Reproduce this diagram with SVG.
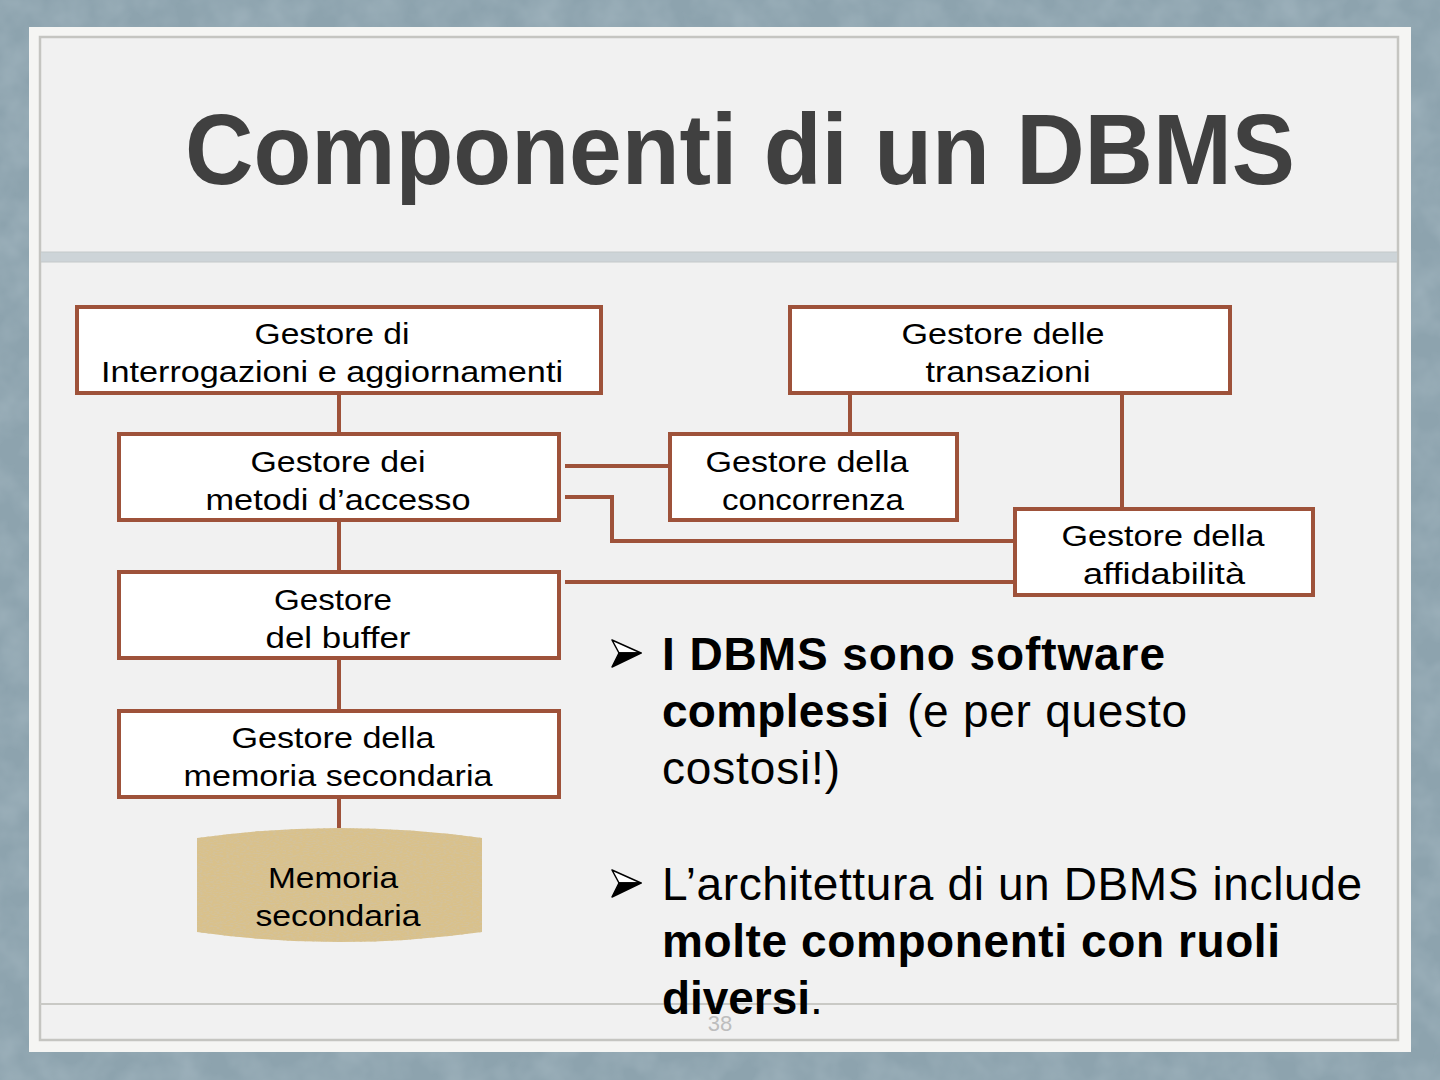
<svg xmlns="http://www.w3.org/2000/svg" width="1440" height="1080" viewBox="0 0 1440 1080">
  <defs>
    <style>
      .box { fill: #ffffff; stroke: #9e523a; stroke-width: 4; }
      .conn { fill: none; stroke: #9e523a; stroke-width: 4; }
      .lbl { font-family: "Liberation Sans", Arial, sans-serif; font-size: 29px; fill: #000000; text-anchor: middle; }
      .bul { font-family: "Liberation Sans", Arial, sans-serif; font-size: 46px; fill: #000000; }
      .b { font-weight: bold; }
    </style>
    <filter id="bgtex" x="0" y="0" width="100%" height="100%">
      <feTurbulence type="fractalNoise" baseFrequency="0.03" numOctaves="3" seed="7" result="n"/>
      <feColorMatrix in="n" type="matrix" values="0 0 0 0 0.48  0 0 0 0 0.58  0 0 0 0 0.64  0.6 0 0 0 -0.2" result="c"/>
      <feComposite in="c" in2="SourceGraphic" operator="in"/>
    </filter>
    <filter id="cork" x="0" y="0" width="100%" height="100%">
      <feTurbulence type="fractalNoise" baseFrequency="0.3 0.9" numOctaves="2" seed="4" result="n"/>
      <feColorMatrix in="n" type="matrix" values="0 0 0 0 0.66  0 0 0 0 0.54  0 0 0 0 0.32  4 0 0 0 -1.75" result="c"/>
      <feComposite in="c" in2="SourceGraphic" operator="in"/>
    </filter>
  </defs>

  <!-- background -->
  <rect x="0" y="0" width="1440" height="1080" fill="#8da3ae"/>
  <rect x="0" y="0" width="1440" height="1080" fill="#8da3ae" filter="url(#bgtex)"/>

  <!-- slide -->
  <rect x="29" y="27" width="1382" height="1025" fill="#f5f5f3"/>
  <rect x="40" y="37" width="1358" height="1003" fill="#f1f1f1" stroke="#c5c5c1" stroke-width="2.5"/>
  <rect x="41" y="252" width="1356" height="10" fill="#cdd4d8"/>
  <line x1="41" y1="252" x2="1397" y2="252" stroke="#c4c9ca" stroke-width="1"/>
  <line x1="41" y1="262" x2="1397" y2="262" stroke="#c4c9ca" stroke-width="1"/>
  <line x1="40" y1="1004" x2="1398" y2="1004" stroke="#c9c9c5" stroke-width="2"/>

  <!-- title -->
  <text id="title" x="185" y="184" font-family="'Liberation Sans', Arial, sans-serif" font-weight="bold" font-size="100" fill="#404040" textLength="1110" lengthAdjust="spacingAndGlyphs">Componenti di un DBMS</text>

  <!-- connectors -->
  <g id="connectors">
    <line class="conn" x1="339" y1="393" x2="339" y2="434"/>
    <line class="conn" x1="339" y1="520" x2="339" y2="572"/>
    <line class="conn" x1="339" y1="658" x2="339" y2="711"/>
    <line class="conn" x1="339" y1="797" x2="339" y2="828"/>
    <line class="conn" x1="565" y1="466" x2="670" y2="466"/>
    <polyline class="conn" points="565,497 612,497 612,541 1015,541"/>
    <line class="conn" x1="565" y1="582" x2="1015" y2="582"/>
    <line class="conn" x1="850" y1="393" x2="850" y2="434"/>
    <line class="conn" x1="1122" y1="393" x2="1122" y2="509"/>
  </g>

  <!-- nodes -->
  <g id="node-interrogazioni">
    <rect class="box" x="77" y="307" width="524" height="86"/>
    <text class="lbl" x="332" y="344" textLength="155" lengthAdjust="spacingAndGlyphs">Gestore di</text>
    <text class="lbl" x="332" y="382" textLength="462" lengthAdjust="spacingAndGlyphs">Interrogazioni e aggiornamenti</text>
  </g>
  <g id="node-metodi">
    <rect class="box" x="119" y="434" width="440" height="86"/>
    <text class="lbl" x="338" y="472" textLength="175" lengthAdjust="spacingAndGlyphs">Gestore dei</text>
    <text class="lbl" x="338" y="510" textLength="265" lengthAdjust="spacingAndGlyphs">metodi d’accesso</text>
  </g>
  <g id="node-buffer">
    <rect class="box" x="119" y="572" width="440" height="86"/>
    <text class="lbl" x="333" y="610" textLength="118" lengthAdjust="spacingAndGlyphs">Gestore</text>
    <text class="lbl" x="338" y="648" textLength="145" lengthAdjust="spacingAndGlyphs">del buffer</text>
  </g>
  <g id="node-memoria-gestore">
    <rect class="box" x="119" y="711" width="440" height="86"/>
    <text class="lbl" x="333" y="748" textLength="203" lengthAdjust="spacingAndGlyphs">Gestore della</text>
    <text class="lbl" x="338" y="786" textLength="309" lengthAdjust="spacingAndGlyphs">memoria secondaria</text>
  </g>
  <g id="node-memoria-secondaria">
    <path d="M197,838 Q339,818 482,838 L482,932 Q339,952 197,932 Z" fill="#d9c18b"/>
    <path d="M197,838 Q339,818 482,838 L482,932 Q339,952 197,932 Z" fill="#d9c18b" filter="url(#cork)"/>
    <text class="lbl" x="333" y="888" textLength="130" lengthAdjust="spacingAndGlyphs">Memoria</text>
    <text class="lbl" x="338" y="926" textLength="165" lengthAdjust="spacingAndGlyphs">secondaria</text>
  </g>
  <g id="node-transazioni">
    <rect class="box" x="790" y="307" width="440" height="86"/>
    <text class="lbl" x="1003" y="344" textLength="203" lengthAdjust="spacingAndGlyphs">Gestore delle</text>
    <text class="lbl" x="1008" y="382" textLength="165" lengthAdjust="spacingAndGlyphs">transazioni</text>
  </g>
  <g id="node-concorrenza">
    <rect class="box" x="670" y="434" width="287" height="86"/>
    <text class="lbl" x="807" y="472" textLength="203" lengthAdjust="spacingAndGlyphs">Gestore della</text>
    <text class="lbl" x="813" y="510" textLength="182" lengthAdjust="spacingAndGlyphs">concorrenza</text>
  </g>
  <g id="node-affidabilita">
    <rect class="box" x="1015" y="509" width="298" height="86"/>
    <text class="lbl" x="1163" y="546" textLength="203" lengthAdjust="spacingAndGlyphs">Gestore della</text>
    <text class="lbl" x="1164" y="584" textLength="162" lengthAdjust="spacingAndGlyphs">affidabilità</text>
  </g>

  <!-- page number -->
  <text x="720" y="1031" font-family="'Liberation Sans', Arial, sans-serif" font-size="22" fill="#bdbdbd" text-anchor="middle">38</text>

  <!-- bullets -->
  <g id="bullets">
    <path d="M612,640 L641,653 L619,653 Z" fill="#ffffff" stroke="#000000" stroke-width="1.5" stroke-linejoin="round"/>
    <path d="M619,653 L641,653 L612,667 Z" fill="#000000" stroke="#000000" stroke-width="1.5" stroke-linejoin="round"/>
    <text class="bul b" x="662" y="670" textLength="503" lengthAdjust="spacing">I DBMS sono software</text>
    <text class="bul b" x="662" y="727" textLength="227" lengthAdjust="spacing">complessi</text>
    <text class="bul" x="907" y="727" textLength="280" lengthAdjust="spacing">(e per questo</text>
    <text class="bul" x="662" y="784" textLength="178" lengthAdjust="spacing">costosi!)</text>

    <path d="M612,870 L641,883 L619,883 Z" fill="#ffffff" stroke="#000000" stroke-width="1.5" stroke-linejoin="round"/>
    <path d="M619,883 L641,883 L612,897 Z" fill="#000000" stroke="#000000" stroke-width="1.5" stroke-linejoin="round"/>
    <text class="bul" x="662" y="900" textLength="700" lengthAdjust="spacing">L’architettura di un DBMS include</text>
    <text class="bul b" x="662" y="957" textLength="618" lengthAdjust="spacing">molte componenti con ruoli</text>
    <text class="bul" x="662" y="1014"><tspan class="b" textLength="148" lengthAdjust="spacing">diversi</tspan>.</text>
  </g>
</svg>
